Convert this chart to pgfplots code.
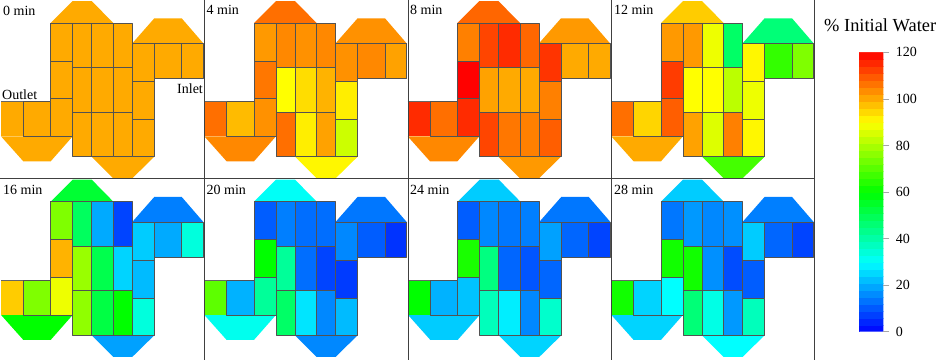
\documentclass[border=0pt]{standalone}
\usepackage{pgfplots}
\usepackage{pgfplotstable}
\usepackage{fontspec}
\setmainfont{Liberation Serif}
\pgfplotsset{compat=1.18}
% rows: cells of the drainage layout; columns: minutes; values: % initial water
\pgfplotstableread{
cell t0  t4  t8  t12 t16 t20 t24 t28
T    100 107 108 96  54  31  24  24
R    100 103 102 46  15  14  14  15
L    100 104 104 100 60  32  24  25
Bt   100 91  102 68  19  16  25  30
A1   100 102 105 102 75  11  11  14
A2   100 106 120 113 99  60  63  62
A3   100 103 115 109 88  42  23  30
B1   100 104 112 102 49  15  16  18
B2   100 90  101 90  78  42  45  62
B3   100 107 112 101 77  48  38  46
C1   100 103 115 88  20  13  14  16
C2   100 94  100 90  51  13  12  17
C3   100 92  106 86  52  27  28  33
D1   100 104 108 48  8   13  15  17
D2   100 99  100 82  25  8   10  9
D3   100 101 105 105 60  16  16  18
E1   100 103 114 91  24  16  19  24
E2   100 92  105 88  22  7   12  11
E3   100 84  109 91  34  22  36  38
I1   100 104 100 66  20  11  12  12
I2   100 101 100 75  34  6   8   8
O1   100 107 115 107 96  71  60  62
O2   100 98  107 95  75  21  21  25
}\water
\pgfplotsset{
  boxed/.style={patch, patch type=rectangle, point meta=explicit, forget plot, no marks, shader=faceted, faceted color=black!68, line width=0.8pt},
}
\newcommand\getxy[8]{%
  \pgfmathsetmacro\xa{#1+\dx}\pgfmathsetmacro\ya{#2+\dy}%
  \pgfmathsetmacro\xb{#3+\dx}\pgfmathsetmacro\yb{#4+\dy}%
  \pgfmathsetmacro\xc{#5+\dx}\pgfmathsetmacro\yc{#6+\dy}%
  \pgfmathsetmacro\xd{#7+\dx}\pgfmathsetmacro\yd{#8+\dy}%
}
% plain filled shape, no outline; its colour comes from the value in the table
\newcommand\qf[9]{%
  \pgfplotstablegetelem{#1}{\col}\of\water
  \pgfmathsetmacro\pmil{\pgfplotsretval/3*25}%
  \getxy{#2}{#3}{#4}{#5}{#6}{#7}{#8}{#9}%
  \edef\tmp{\noexpand\addplot[color of colormap={\pmil\space of water}, fill=., draw=none, forget plot, no marks]}%
  \tmp coordinates {(\xa,\ya) (\xb,\yb) (\xc,\yc) (\xd,\yd)};%
}
% outlined cell
\newcommand\qb[5]{%
  \pgfplotstablegetelem{#1}{\col}\of\water
  \let\val\pgfplotsretval
  \getxy{#2}{#4}{#3}{#4}{#3}{#5}{#2}{#5}%
  \addplot[boxed] coordinates {(\xa,\ya) [\val] (\xb,\yb) [\val] (\xc,\yc) [\val] (\xd,\yd) [\val]};%
}
\newcommand\panel[3]{%
  \def\col{#1}\def\dx{#2}\def\dy{#3}%
  \qf{0}{50.7}{23}{72.7}{1}{91.7}{1}{113.3}{23}%
  \qf{1}{132.3}{43.3}{154.3}{18.3}{181.7}{18.3}{203.3}{43.3}%
  \qf{2}{1}{136.3}{23.3}{161.3}{50.7}{161.3}{72.7}{136.3}%
  \qf{3}{91.7}{156.7}{113.3}{178.3}{132.3}{178.3}{154.3}{156.7}%
  \qf{21}{1}{101.3}{23.3}{101.3}{23.3}{136.3}{1}{136.3}%
  \qb{4}{50.7}{72.7}{23}{61}\qb{5}{50.7}{72.7}{61}{98.7}\qb{6}{50.7}{72.7}{98.7}{136.3}%
  \qb{7}{72.7}{91.7}{23}{67.3}\qb{8}{72.7}{91.7}{67.3}{112}\qb{9}{72.7}{91.7}{112}{156.7}%
  \qb{10}{91.7}{113.3}{23}{67.3}\qb{11}{91.7}{113.3}{67.3}{112}\qb{12}{91.7}{113.3}{112}{156.7}%
  \qb{13}{113.3}{132.3}{23}{67.3}\qb{14}{113.3}{132.3}{67.3}{112}\qb{15}{113.3}{132.3}{112}{156.7}%
  \qb{16}{132.3}{154.3}{43.3}{81.3}\qb{17}{132.3}{154.3}{81.3}{119.3}\qb{18}{132.3}{154.3}{119.3}{156.7}%
  \qb{19}{154.3}{181.7}{43.3}{78.7}\qb{20}{181.7}{203.3}{43.3}{78.7}%
  \qb{22}{23.3}{50.7}{101.3}{136.3}%
  \pgfmathsetmacro\xa{1+\dx}\pgfmathsetmacro\xb{23.3+\dx}\pgfmathsetmacro\ya{101.3+\dy}%
  \addplot[black!60, line width=0.6pt, no marks, forget plot] coordinates {(\xa,\ya) (\xb,\ya)};%
}
\begin{document}
\begin{tikzpicture}[x=1pt,y=1pt]
\path[use as bounding box] (0,0) rectangle (941,360);
\begin{axis}[
  at={(0,0)}, anchor=south west,
  scale only axis, width=941pt, height=360pt,
  xmin=0, xmax=941, ymin=0, ymax=360, y dir=reverse,
  hide axis, clip=false,
  colormap={water}{rgb255(0)=(0,0,255) rgb255(30)=(0,255,255) rgb255(60)=(0,255,0) rgb255(90)=(255,255,0) rgb255(120)=(255,0,0)},
  point meta min=0, point meta max=120,
  colorbar sampled,
  colorbar style={
    at={(parent axis.north west)}, anchor=north west,
    xshift=850.2pt, yshift=-52.3pt,
    width=24.6pt, height=279.4pt, samples=41,
    y dir=normal,
    ytick={0,20,...,120},
    ytick pos=right, yticklabel pos=right, tick align=outside,
    major tick length=6pt,
    tick style={black!35, line width=0.6pt},
    axis line style={draw=none},
    yticklabel style={font=\fontsize{14}{16}\selectfont, xshift=3pt, /pgf/number format/assume math mode=true},
  },
]
\panel{t0}{0}{0}
\panel{t4}{203.3}{0}
\panel{t8}{406.7}{0}
\panel{t12}{610.3}{0}
\panel{t16}{0}{178.6}
\panel{t20}{203.3}{178.6}
\panel{t24}{407}{178.6}
\panel{t28}{610.3}{178.6}

\draw[black!75, line width=0.9pt] (axis cs:0,178.5) -- (axis cs:814.5,178.5);
\draw[black!75, line width=0.9pt] (axis cs:204.3,0) -- (axis cs:204.3,360);
\draw[black!75, line width=0.9pt] (axis cs:408,0) -- (axis cs:408,360);
\draw[black!75, line width=0.9pt] (axis cs:611,0) -- (axis cs:611,360);
\draw[black!75, line width=0.9pt] (axis cs:814,0) -- (axis cs:814,360);

\tikzset{lab/.style={anchor=base west, inner sep=0pt, font=\fontsize{14}{16}\selectfont}}
\node[lab] at (axis cs:3,15.5) {0 min};
\node[lab] at (axis cs:206.5,14.5) {4 min};
\node[lab] at (axis cs:410,14.5) {8 min};
\node[lab] at (axis cs:614,14.5) {12 min};
\node[lab] at (axis cs:3,194) {16 min};
\node[lab] at (axis cs:206.5,194) {20 min};
\node[lab] at (axis cs:410,194) {24 min};
\node[lab] at (axis cs:614,194) {28 min};
\node[lab] at (axis cs:2,99) {Outlet};
\node[lab] at (axis cs:177,93.3) {Inlet};
\node[anchor=base west, inner sep=0pt, font=\fontsize{18.4}{20}\selectfont] at (axis cs:824,31) {\% Initial Water};
\end{axis}
\end{tikzpicture}
\end{document}
